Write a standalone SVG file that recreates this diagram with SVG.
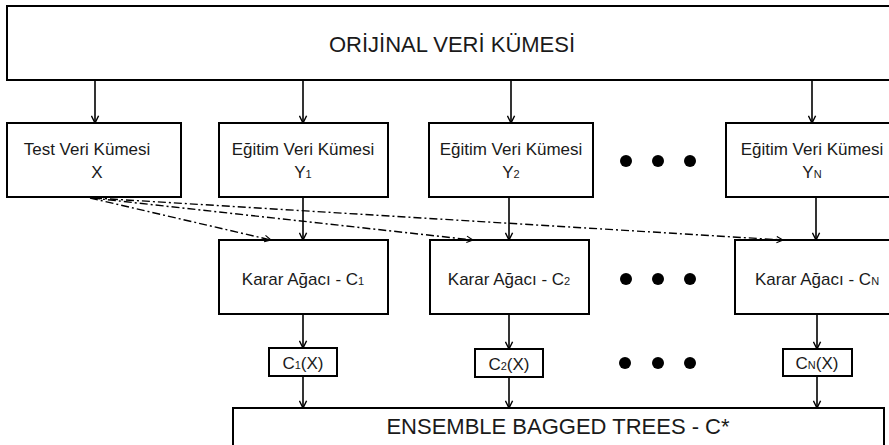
<svg xmlns="http://www.w3.org/2000/svg" width="889" height="445" viewBox="0 0 889 445">
<defs>
<marker id="arr" viewBox="0 0 10 10" refX="9" refY="5" markerWidth="9" markerHeight="9" markerUnits="userSpaceOnUse" orient="auto">
<path d="M1,1 L9,5 L1,9" fill="none" stroke="#000" stroke-width="1.6"/>
</marker>
<marker id="arrs" viewBox="0 0 10 10" refX="9" refY="5" markerWidth="8" markerHeight="8" markerUnits="userSpaceOnUse" orient="auto">
<path d="M1,1 L9,5 L1,9" fill="none" stroke="#000" stroke-width="1.4"/>
</marker>
</defs>
<style>
.box{fill:#fff;stroke:#000;stroke-width:2}
.t{font-family:"Liberation Sans",Arial,sans-serif;font-size:17px;fill:#1a1a1a;text-anchor:middle}
.big{font-size:22px}
.sub{font-size:11px}
.c{stroke:#000;stroke-width:1.6;fill:none;marker-end:url(#arr)}
.dd{stroke:#000;stroke-width:1.4;fill:none;stroke-dasharray:8 3 2 3;marker-end:url(#arrs)}
.dot{fill:#000}
</style>
<rect width="889" height="445" fill="#fff"/>
<g id="orijinal">
<rect class="box" x="7" y="6" width="895" height="74"/>
<text class="t big" x="452" y="52">ORİJİNAL VERİ KÜMESİ</text>
</g>
<g id="test">
<rect class="box" x="7" y="123" width="174" height="74"/>
<text class="t" x="87" y="155">Test Veri Kümesi</text>
<text class="t" x="97" y="178">X</text>
</g>
<g id="egitim1">
<rect class="box" x="219" y="123" width="169" height="74"/>
<text class="t" x="303" y="155">Eğitim Veri Kümesi</text>
<text class="t" x="303" y="178">Y<tspan class="sub">1</tspan></text>
</g>
<g id="egitim2">
<rect class="box" x="429" y="123" width="164" height="74"/>
<text class="t" x="511" y="155">Eğitim Veri Kümesi</text>
<text class="t" x="511" y="178">Y<tspan class="sub">2</tspan></text>
</g>
<g id="egitimN">
<rect class="box" x="726" y="123" width="172" height="74"/>
<text class="t" x="812" y="155">Eğitim Veri Kümesi</text>
<text class="t" x="812" y="178">Y<tspan class="sub">N</tspan></text>
</g>
<g id="karar1">
<rect class="box" x="219" y="240" width="169" height="74"/>
<text class="t" x="303" y="285">Karar Ağacı - C<tspan class="sub">1</tspan></text>
</g>
<g id="karar2">
<rect class="box" x="430" y="240" width="159" height="74"/>
<text class="t" x="509" y="285">Karar Ağacı - C<tspan class="sub">2</tspan></text>
</g>
<g id="kararN">
<rect class="box" x="735" y="240" width="165" height="74"/>
<text class="t" x="817" y="285">Karar Ağacı - C<tspan class="sub">N</tspan></text>
</g>
<g id="c1x">
<rect class="box" x="269" y="348" width="68" height="28"/>
<text class="t" x="303" y="369">C<tspan class="sub">1</tspan>(X)</text>
</g>
<g id="c2x">
<rect class="box" x="475" y="349" width="68" height="28"/>
<text class="t" x="509" y="370">C<tspan class="sub">2</tspan>(X)</text>
</g>
<g id="cnx">
<rect class="box" x="783" y="349" width="69" height="27"/>
<text class="t" x="817" y="369">C<tspan class="sub">N</tspan>(X)</text>
</g>
<g id="ensemble">
<rect class="box" x="233" y="408" width="651" height="40"/>
<text class="t big" x="558" y="434">ENSEMBLE BAGGED TREES - C*</text>
</g>
<g id="ellipsis">
<circle class="dot" cx="626" cy="161" r="6"/><circle class="dot" cx="658" cy="161" r="6"/><circle class="dot" cx="690" cy="161" r="6"/>
<circle class="dot" cx="626" cy="279" r="6"/><circle class="dot" cx="658" cy="279" r="6"/><circle class="dot" cx="690" cy="279" r="6"/>
<circle class="dot" cx="625" cy="363" r="6"/><circle class="dot" cx="658" cy="363" r="6"/><circle class="dot" cx="690" cy="363" r="6"/>
</g>
<g id="connectors">
<path class="c" d="M95,80 V123"/>
<path class="c" d="M303,80 V123"/>
<path class="c" d="M511,80 V123"/>
<path class="c" d="M812,80 V123"/>
<path class="c" d="M303,197 V240"/>
<path class="c" d="M509,197 V240"/>
<path class="c" d="M816,197 V240"/>
<path class="c" d="M303,314 V348"/>
<path class="c" d="M509,314 V349"/>
<path class="c" d="M817,314 V349"/>
<path class="c" d="M303,376 V408"/>
<path class="c" d="M509,377 V408"/>
<path class="c" d="M817,376 V408"/>
<path class="dd" d="M90,198 L271,240"/>
<path class="dd" d="M92,198 L473,240"/>
<path class="dd" d="M94,198 L783,240"/>
</g>
</svg>
